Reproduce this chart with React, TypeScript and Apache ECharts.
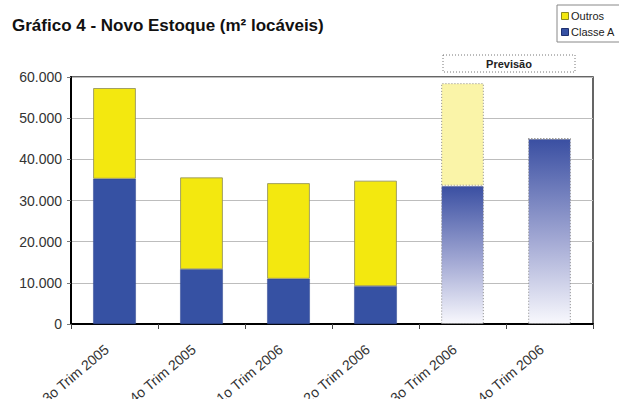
import React, { useEffect, useRef } from "react";
import * as echarts from "echarts";

// Quarters shown on the x axis
const categories = [
  "3o Trim 2005",
  "4o Trim 2005",
  "1o Trim 2006",
  "2o Trim 2006",
  "3o Trim 2006",
  "4o Trim 2006",
];

// New stock, m² (lettable area)
const classeA = [35300, 13300, 11000, 9200, 33600, 45000];
const outros = [22000, 22300, 23200, 25600, 24900, 0];

// Quarters that are forecasts
const forecast = [false, false, false, false, true, true];

const yTicks = { min: 0, max: 60000, interval: 10000 };

const BLUE = "#3651A3";
const YELLOW = "#F3E80F";
const LIGHT_YELLOW = "#FAF4A8";
const FONT = "Liberation Sans, Arial, sans-serif";

const fmt = (v: number) =>
  v === 0 ? "0" : String(v).replace(/\B(?=(\d{3})+(?!\d))/g, ".");

export default function App() {
  const ref = useRef<HTMLDivElement>(null);

  useEffect(() => {
    if (!ref.current) return;
    document.body.style.margin = "0";
    const chart = echarts.init(ref.current, null, { renderer: "svg" });

    const fadeBlue = new echarts.graphic.LinearGradient(0, 0, 0, 1, [
      { offset: 0, color: "#3A4FA2" },
      { offset: 0.55, color: "#A3A9D4" },
      { offset: 1, color: "#F8F8FD" },
    ]);

    const dotted = {
      borderColor: "#8A8A8A",
      borderWidth: 1,
      borderType: [1, 2] as any,
    };

    const classeAData = classeA.map((v, i) =>
      forecast[i]
        ? { value: v, itemStyle: { color: fadeBlue, ...dotted } }
        : { value: v }
    );
    const outrosData = outros.map((v, i) =>
      forecast[i]
        ? { value: v, itemStyle: { color: LIGHT_YELLOW, ...dotted } }
        : { value: v }
    );

    // Legend box, anchored at the top right and running off the edge
    const legendItems = [
      { name: "Outros", color: YELLOW, border: "#8C8A20" },
      { name: "Classe A", color: BLUE, border: "#1E3070" },
    ];

    chart.setOption({
      animation: false,
      backgroundColor: "#fff",
      title: {
        text: "Gráfico 4 - Novo Estoque (m² locáveis)",
        left: 7,
        top: 12,
        textStyle: {
          fontFamily: FONT,
          fontSize: 17,
          fontWeight: "bold",
          color: "#111",
        },
      },
      grid: {
        left: 71,
        right: 26,
        top: 77,
        bottom: 75,
        containLabel: false,
        outerBoundsMode: "none",
        show: true,
        borderColor: "#333",
        borderWidth: 1.5,
      },
      xAxis: {
        type: "category",
        data: categories,
        axisLine: { lineStyle: { color: "#000", width: 2 } },
        axisTick: { show: true, length: 5, lineStyle: { color: "#444" } },
        axisLabel: {
          rotate: 40,
          margin: 17,
          interval: 0,
          padding: [0, 10, 0, 0],
          fontFamily: FONT,
          fontSize: 14,
          color: "#333",
        },
      },
      yAxis: {
        type: "value",
        ...yTicks,
        axisLine: { show: true, lineStyle: { color: "#000", width: 2 } },
        axisTick: { show: true, length: 4, lineStyle: { color: "#777" } },
        splitLine: { lineStyle: { color: "#BDBDBD", width: 1 } },
        axisLabel: {
          formatter: (v: number) => fmt(v),
          margin: 9,
          fontFamily: FONT,
          fontSize: 14,
          color: "#333",
        },
      },
      series: [
        {
          name: "Classe A",
          type: "bar",
          stack: "total",
          barWidth: "49%",
          itemStyle: { color: BLUE, borderColor: "#2E4690", borderWidth: 0.5 },
          data: classeAData,
        },
        {
          name: "Outros",
          type: "bar",
          stack: "total",
          barWidth: "49%",
          itemStyle: { color: YELLOW, borderColor: "#8C8A5A", borderWidth: 0.8 },
          data: outrosData,
        },
      ],
      graphic: [
        {
          type: "group",
          x: 557,
          y: 5,
          children: [
            {
              type: "rect",
              shape: { x: 0, y: 0, width: 100, height: 37 },
              style: { fill: "#fff", stroke: "#888", lineWidth: 1 },
            },
            ...legendItems.flatMap((it, i) => [
              {
                type: "rect",
                shape: { x: 4.5, y: 7.5 + i * 16, width: 7, height: 7 },
                style: { fill: it.color, stroke: it.border, lineWidth: 1 },
              },
              {
                type: "text",
                x: 14,
                y: 11 + i * 16,
                style: {
                  text: it.name,
                  verticalAlign: "middle",
                  fontFamily: FONT,
                  fontSize: 11,
                  fill: "#222",
                },
              },
            ]),
          ],
        },
        {
          type: "group",
          x: 443,
          y: 55,
          children: [
            {
              type: "rect",
              shape: { x: 0, y: 0, width: 132, height: 17 },
              style: {
                fill: "#fff",
                stroke: "#777",
                lineWidth: 1,
                lineDash: [1, 2],
              },
            },
            {
              type: "text",
              x: 66,
              y: 9,
              style: {
                text: "Previsão",
                align: "center",
                verticalAlign: "middle",
                fontFamily: FONT,
                fontSize: 11,
                fontWeight: "bold",
                fill: "#222",
              },
            },
          ],
        },
      ],
    });

    return () => chart.dispose();
  }, []);

  return <div ref={ref} style={{ width: 619, height: 399 }} />;
}
